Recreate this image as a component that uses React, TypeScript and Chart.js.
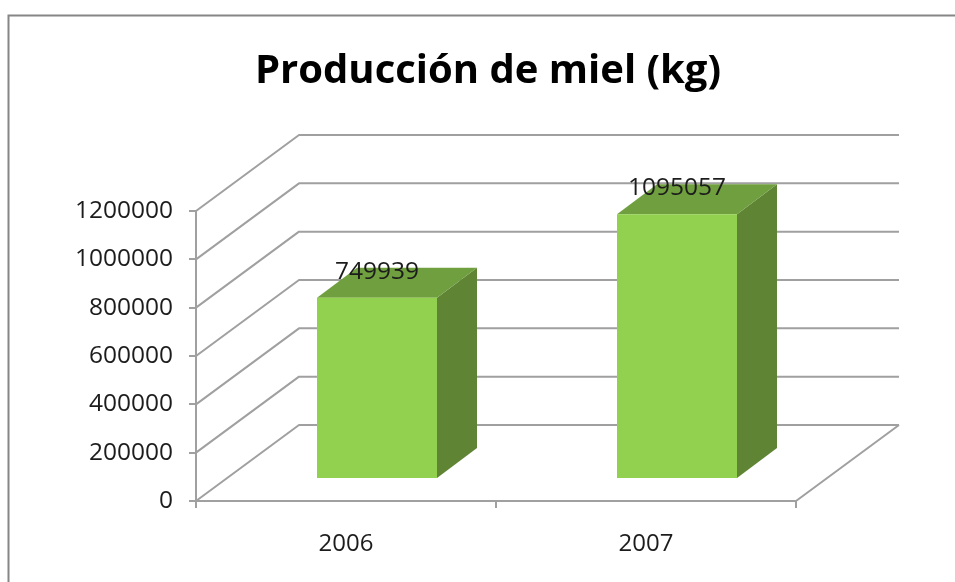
import React, { useEffect, useRef } from "react";
import { Chart, registerables } from "chart.js";

Chart.register(...registerables);

const categories = ["2006", "2007"];
const production = [749939, 1095057];
const titleText = "Producción de miel (kg)";
const yMax = 1200000;
const yStep = 200000;

const FONT = "'Open Sans', sans-serif";
const GRID = "#a0a0a0";
const TEXT = "#1c1c1c";
const WALL_DX = 103;
const WALL_DY = -76;
const BAR_OFF_DX = 31;
const BAR_OFF_DY = -22;
const BAR_DX = 40;
const BAR_DY = -30;

const depthPlugin = {
  id: "depth",
  beforeDraw(chart: any) {
    const { ctx, width, height } = chart;
    ctx.save();
    ctx.fillStyle = "#ffffff";
    ctx.fillRect(0, 0, width, height);
    ctx.strokeStyle = "#868686";
    ctx.lineWidth = 2;
    ctx.beginPath();
    ctx.moveTo(8.5, height);
    ctx.lineTo(8.5, 15.5);
    ctx.lineTo(width, 15.5);
    ctx.stroke();
    ctx.restore();
  },
  beforeDatasetsDraw(chart: any) {
    const { ctx, chartArea } = chart;
    const y = chart.scales.y;
    const { left, right, bottom } = chartArea;
    ctx.save();
    ctx.strokeStyle = GRID;
    ctx.lineWidth = 2;
    ctx.lineJoin = "round";
    ctx.beginPath();
    y.ticks.forEach((t: any) => {
      const py = y.getPixelForValue(t.value);
      ctx.moveTo(left, py);
      ctx.lineTo(left + WALL_DX, py + WALL_DY);
      ctx.lineTo(right + WALL_DX, py + WALL_DY);
    });
    ctx.moveTo(right + WALL_DX, bottom + WALL_DY);
    ctx.lineTo(right, bottom);
    ctx.lineTo(left, bottom);
    ctx.stroke();
    ctx.restore();

    // side and top faces of each bar, from the bar element's own geometry
    const meta = chart.getDatasetMeta(0);
    meta.data.forEach((bar: any) => {
      const x0 = bar.x - bar.width / 2 + BAR_OFF_DX;
      const x1 = bar.x + bar.width / 2 + BAR_OFF_DX;
      const top = bar.y + BAR_OFF_DY;
      const base = bar.base + BAR_OFF_DY;
      ctx.save();
      ctx.fillStyle = "#5f8433";
      ctx.beginPath();
      ctx.moveTo(x1, top);
      ctx.lineTo(x1 + BAR_DX, top + BAR_DY);
      ctx.lineTo(x1 + BAR_DX, base + BAR_DY);
      ctx.lineTo(x1, base);
      ctx.closePath();
      ctx.fill();
      ctx.fillStyle = "#6f9f3e";
      ctx.beginPath();
      ctx.moveTo(x0, top);
      ctx.lineTo(x0 + BAR_DX, top + BAR_DY);
      ctx.lineTo(x1 + BAR_DX, top + BAR_DY);
      ctx.lineTo(x1, top);
      ctx.closePath();
      ctx.fill();
      ctx.restore();
    });
    ctx.save();
    ctx.translate(BAR_OFF_DX, BAR_OFF_DY);
  },
  afterDatasetsDraw(chart: any) {
    const { ctx } = chart;
    ctx.restore();
    const meta = chart.getDatasetMeta(0);
    ctx.save();
    ctx.font = `24.5px ${FONT}`;
    ctx.fillStyle = TEXT;
    ctx.textAlign = "center";
    ctx.textBaseline = "middle";
    meta.data.forEach((bar: any, i: number) => {
      ctx.fillText(
        String(production[i]),
        bar.x + BAR_OFF_DX,
        bar.y + BAR_OFF_DY - 26,
      );
    });
    ctx.restore();
  },
};

export default function App() {
  const ref = useRef<HTMLCanvasElement>(null);
  useEffect(() => {
    if (!ref.current) return;
    const chart = new Chart(ref.current, {
      type: "bar",
      data: {
        labels: categories,
        datasets: [
          {
            label: "Producción",
            data: production,
            backgroundColor: "#92d050",
            categoryPercentage: 1,
            barPercentage: 0.4,
          },
        ],
      },
      options: {
        responsive: false,
        animation: false,
        layout: { padding: { left: 21, right: 0, top: 0, bottom: 0 } },
        plugins: {
          legend: { display: false },
          tooltip: { enabled: false },
          title: {
            display: true,
            text: titleText,
            color: "#000000",
            font: { family: FONT, size: 40, weight: "bold" },
            padding: { top: 48, bottom: 115 },
          },
        },
        scales: {
          x: {
            offset: true,
            border: { color: GRID, width: 2 },
            grid: {
              offset: true,
              drawOnChartArea: false,
              drawTicks: true,
              tickLength: 7,
              color: GRID,
              lineWidth: 2,
            },
            ticks: {
              color: TEXT,
              font: { family: FONT, size: 24 },
              padding: 22,
              maxRotation: 0,
            },
            afterFit(s: any) {
              s.height = 81;
            },
          },
          y: {
            min: 0,
            max: yMax,
            position: "left",
            border: { color: GRID, width: 2 },
            grid: {
              drawOnChartArea: false,
              drawTicks: true,
              tickLength: 7,
              color: GRID,
              lineWidth: 2,
            },
            ticks: {
              stepSize: yStep,
              color: TEXT,
              font: { family: FONT, size: 24.5 },
              padding: 16,
              callback: (v: any) => String(v),
            },
            afterFit(s: any) {
              s.width = 175;
            },
          },
          spacer: {
            position: "right",
            display: true,
            border: { display: false },
            grid: { display: false, drawTicks: false },
            ticks: { display: false },
            afterFit(s: any) {
              s.width = 159;
            },
          },
        },
      } as any,
      plugins: [depthPlugin],
    });
    return () => chart.destroy();
  }, []);
  return (
    <div style={{ position: "fixed", left: 0, top: 0, width: 955, height: 582 }}>
      <canvas ref={ref} width={955} height={582} style={{ display: "block" }} />
    </div>
  );
}
